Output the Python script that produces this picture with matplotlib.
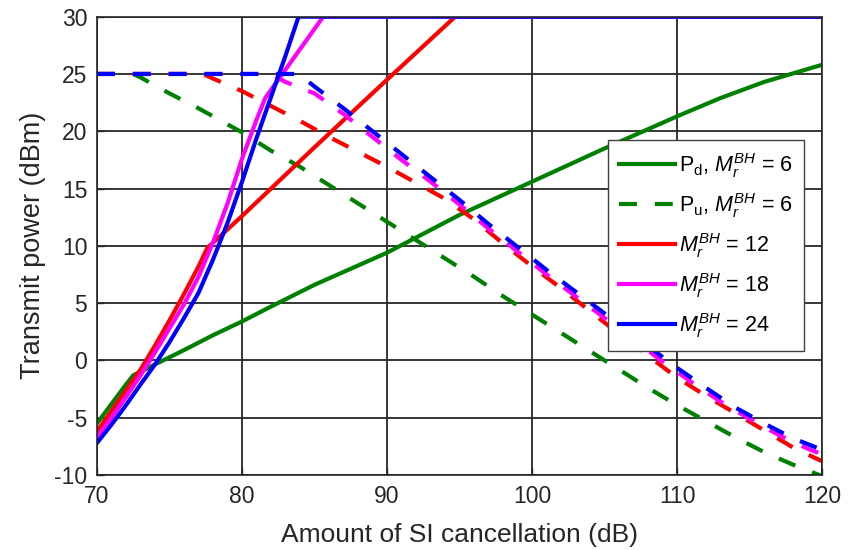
import matplotlib
matplotlib.use("Agg")
import matplotlib.pyplot as plt

plt.rcParams["font.family"] = ["Liberation Sans", "DejaVu Sans"]
plt.rcParams["mathtext.fontset"] = "custom"
plt.rcParams["mathtext.rm"] = "Liberation Sans"
plt.rcParams["mathtext.it"] = "Liberation Sans:italic"
plt.rcParams["mathtext.bf"] = "Liberation Sans:bold"
plt.rcParams["axes.unicode_minus"] = False

# P_d, M_r^BH = 6 (green solid)
pd6_x = [70, 71, 72, 72.5, 74, 76, 78, 80, 82, 85, 90, 95, 100, 105, 110, 113, 116, 120]
pd6_y = [-5.5, -3.8, -2.1, -1.3, -0.35, 0.9, 2.2, 3.4, 4.7, 6.6, 9.4, 12.7, 15.6, 18.5, 21.3, 22.9, 24.3, 25.8]

# P_u, M_r^BH = 6 (green dashed)
pu6_x = [70, 72.5, 73, 75, 77, 79, 80, 82, 84, 86, 88, 90, 92, 94, 96, 98, 100,
         102, 104, 106, 108, 110, 112, 114, 116, 118, 120]
pu6_y = [25, 25, 24.7, 23.3, 22.0, 20.6, 19.9, 18.3, 16.9, 15.3, 13.7, 12.1, 10.5, 8.9, 7.3, 5.6, 4.0,
         2.4, 0.8, -0.8, -2.4, -3.9, -5.3, -6.7, -8.0, -9.1, -10.1]

# M_r^BH = 12 (red)
pd12_x = [70, 71, 72, 73, 74, 75, 76, 77, 77.6, 80, 85, 90, 94.7, 120]
pd12_y = [-6.2, -4.4, -2.6, -0.8, 1.3, 3.5, 5.8, 8.2, 9.8, 12.6, 18.6, 24.5, 30, 30]
pu12_x = [70, 77.3, 78, 80, 82, 84, 86, 88, 90, 92, 94, 96, 98, 100,
          102, 104, 106, 108, 110, 112, 114, 116, 118, 120]
pu12_y = [25, 25, 24.6, 23.5, 22.2, 20.9, 19.5, 18.2, 16.9, 15.5, 14.1, 12.3, 10.2, 8.2,
          6.3, 4.3, 2.3, 0.4, -1.5, -3.1, -4.6, -6.1, -7.6, -8.8]

# M_r^BH = 18 (magenta)
pd18_x = [70, 71, 72, 73, 74, 75, 76, 77, 78, 79, 80, 81, 81.6, 85.6, 120]
pd18_y = [-6.7, -5.0, -3.2, -1.3, 0.7, 2.8, 4.9, 7.3, 10.3, 13.7, 17.6, 21.0, 22.9, 30, 30]
pu18_x = [70, 82, 83, 85, 87, 89, 91, 93, 95, 97, 99, 101, 103, 105,
          107, 109, 111, 113, 115, 117, 119, 120]
pu18_y = [25, 25, 24.3, 23.3, 21.5, 19.5, 17.5, 15.6, 13.6, 11.5, 9.5, 7.5, 5.6, 3.7,
          1.8, -0.1, -1.9, -3.6, -5.1, -6.5, -7.7, -8.2]

# M_r^BH = 24 (blue)
pd24_x = [70, 71, 72, 73, 74, 75, 76, 77, 78, 79, 80, 81, 82, 83, 83.9, 120]
pd24_y = [-7.2, -5.6, -3.9, -2.1, -0.35, 1.6, 3.7, 5.9, 8.8, 12.0, 15.6, 19.4, 23.0, 26.6, 30, 30]
pu24_x = [70, 83.9, 85, 87, 89, 91, 93, 95, 97, 99, 101, 103, 105, 107, 109, 110,
          112, 114, 116, 118, 120]
pu24_y = [25, 25, 23.9, 22.0, 20.0, 18.0, 16.0, 14.0, 11.9, 9.9, 7.9, 6.0, 4.1, 2.2, 0.3, -0.65,
          -2.4, -4.1, -5.5, -6.8, -7.8]

x_ticks = [70, 80, 90, 100, 110, 120]
y_ticks = [-10, -5, 0, 5, 10, 15, 20, 25, 30]

GREEN = "#008000"
RED = "#ff0000"
MAGENTA = "#ff00ff"
BLUE = "#0000ff"
LW = 3.0
DASH = (0, (4.3, 4.3))

fig = plt.figure(figsize=(8.51, 5.5), dpi=100)
ax = fig.add_axes([0.114, 0.1364, 0.852, 0.8333])

ax.plot(pd6_x, pd6_y, color=GREEN, lw=LW, label=r"P$_\mathrm{d}$, $M_r^{BH}$ = 6")
ax.plot(pu6_x, pu6_y, color=GREEN, lw=LW, linestyle=DASH, label=r"P$_\mathrm{u}$, $M_r^{BH}$ = 6")
ax.plot(pd12_x, pd12_y, color=RED, lw=LW, label=r"$M_r^{BH}$ = 12")
ax.plot(pu12_x, pu12_y, color=RED, lw=LW, linestyle=DASH)
ax.plot(pd18_x, pd18_y, color=MAGENTA, lw=LW, label=r"$M_r^{BH}$ = 18")
ax.plot(pu18_x, pu18_y, color=MAGENTA, lw=LW, linestyle=DASH)
ax.plot(pd24_x, pd24_y, color=BLUE, lw=LW, label=r"$M_r^{BH}$ = 24")
ax.plot(pu24_x, pu24_y, color=BLUE, lw=LW, linestyle=DASH)

ax.set_xlim(70, 120)
ax.set_ylim(-10, 30)
ax.set_xticks(x_ticks)
ax.set_yticks(y_ticks)
ax.grid(True, color="#262626", lw=1.3)
ax.set_axisbelow(True)
ax.tick_params(direction="in", length=5, width=1, colors="#262626", labelsize=16.5, pad=7)
for sp in ax.spines.values():
    sp.set_color("#262626")
    sp.set_linewidth(1.2)

ax.set_xlabel("Amount of SI cancellation (dB)", fontsize=19, color="#262626", labelpad=11)
ax.set_ylabel("Transmit power (dBm)", fontsize=19.5, color="#262626", labelpad=6)

leg = ax.legend(loc="upper right", bbox_to_anchor=(0.975, 0.731), borderaxespad=0,
                fontsize=15.5, handlelength=2.6, handletextpad=0.2, labelspacing=0.52,
                fancybox=False, framealpha=1, edgecolor="#404040", borderpad=0.5)
leg.get_frame().set_linewidth(1.0)

fig.savefig("out.png", dpi=100)
